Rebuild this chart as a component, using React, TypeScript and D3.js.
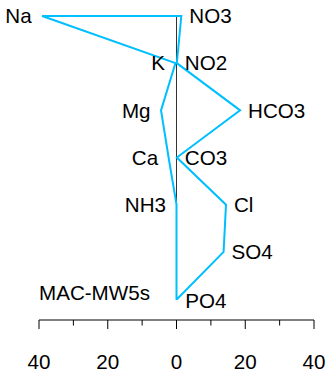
import React from "react";
import * as d3 from "d3";

const title = "MAC-MW5s";
const cationLabels = ["Na", "K", "Mg", "Ca", "NH3", ""];
const cationValues = [39.1, 0.3, 4.5, 2.3, 0.0, 0.0, 0.0];
const anionLabels = ["NO3", "NO2", "HCO3", "CO3", "Cl", "SO4", "PO4"];
const anionValues = [1.4, 0.1, 18.5, 0.1, 14.4, 13.7, 0.2];
const majorTicks = [-40, -20, 0, 20, 40];
const minorTicks = [-30, -10, 10, 30];

const W = 330;
const H = 375;
const FONT = "'Liberation Sans', Arial, Helvetica, sans-serif";
const BLUE = "#00BFFF";

export default function App() {
  const x = d3.scaleLinear().domain([-40, 40]).range([39, 314]);
  const rows = d3.range(anionLabels.length);
  const y = d3.scalePoint<number>().domain(rows).range([16, 299]);

  const rightPts: [number, number][] = rows.map((i) => [x(anionValues[i]), y(i)!]);
  const leftPts: [number, number][] = rows.map((i) => [x(-cationValues[i]), y(i)!]).reverse();
  const poly = d3.line()([...rightPts, ...leftPts]) + "Z";

  const axisY = 320;
  const fs = 20.6;

  return (
    <svg
      width={W}
      height={H}
      style={{ position: "absolute", left: 0, top: 0, background: "#fff" }}
      fontFamily={FONT}
    >
      <line x1={x(0)} x2={x(0)} y1={y(0)} y2={y(rows.length - 1)} stroke="#333" strokeWidth={1} />
      <path d={poly} fill="none" stroke={BLUE} strokeWidth={2} strokeLinejoin="miter" />
      {rows.map((i) =>
        cationLabels[i] ? (
          <text
            key={"c" + i}
            x={x(-cationValues[i]) - 10.5}
            y={y(i)!}
            dy="0.35em"
            fontSize={fs}
            textAnchor="end"
            fill="#000"
          >
            {cationLabels[i]}
          </text>
        ) : null
      )}
      {rows.map((i) => (
        <text
          key={"a" + i}
          x={x(anionValues[i]) + 8}
          y={y(i)! + (i === rows.length - 1 ? 2 : 0)}
          dy="0.35em"
          fontSize={fs}
          textAnchor="start"
          fill="#000"
        >
          {anionLabels[i]}
        </text>
      ))}
      <text x={x(-40)} y={293} dy="0.35em" fontSize={fs} fill="#000">
        {title}
      </text>
      <line x1={x(-40)} x2={x(40)} y1={axisY} y2={axisY} stroke="#000" strokeWidth={1} />
      {majorTicks.map((t) => (
        <line key={"M" + t} x1={x(t)} x2={x(t)} y1={axisY} y2={axisY + 9} stroke="#000" strokeWidth={1} />
      ))}
      {minorTicks.map((t) => (
        <line key={"m" + t} x1={x(t)} x2={x(t)} y1={axisY} y2={axisY + 5.5} stroke="#000" strokeWidth={1} />
      ))}
      {majorTicks.map((t) => (
        <text key={"l" + t} x={x(t)} y={362} dy="0.35em" fontSize={fs} textAnchor="middle" fill="#000">
          {Math.abs(t)}
        </text>
      ))}
    </svg>
  );
}
